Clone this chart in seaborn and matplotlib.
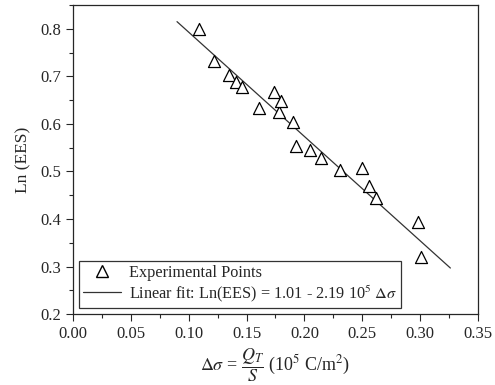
import numpy as np
import pandas as pd
import seaborn as sns
import matplotlib.pyplot as plt
from matplotlib.ticker import MultipleLocator
from matplotlib.lines import Line2D

# === Data ===
delta_sigma = [0.109, 0.122, 0.135, 0.141, 0.146, 0.161, 0.174, 0.178, 0.180,
               0.190, 0.193, 0.205, 0.214, 0.231, 0.250, 0.256, 0.262, 0.298, 0.301]
ln_ees = [0.800, 0.733, 0.702, 0.688, 0.678, 0.634, 0.667, 0.625, 0.648,
          0.604, 0.554, 0.545, 0.528, 0.503, 0.507, 0.469, 0.444, 0.394, 0.320]
fit_x = [0.090, 0.326]
fit_y = [0.815, 0.297]

points = pd.DataFrame({"x": delta_sigma, "y": ln_ees})
fit = pd.DataFrame({"x": fit_x, "y": fit_y})

# === Style ===
sns.set_style("ticks")
plt.rcParams["font.family"] = ["Liberation Serif", "DejaVu Serif"]
plt.rcParams["mathtext.fontset"] = "stix"

fig = plt.figure(figsize=(4.95, 3.85), dpi=100)
ax = fig.add_axes([0.147, 0.184, 0.819, 0.803])

sns.lineplot(data=fit, x="x", y="y", ax=ax, color="#333333", linewidth=0.9)
sns.scatterplot(data=points, x="x", y="y", ax=ax, marker="^", s=75,
                facecolor="white", edgecolor="black", linewidth=0.9, zorder=3)

ax.set_xlim(0.0, 0.35)
ax.set_ylim(0.2, 0.85)
ax.xaxis.set_major_locator(MultipleLocator(0.05))
ax.xaxis.set_minor_locator(MultipleLocator(0.025))
ax.yaxis.set_major_locator(MultipleLocator(0.1))
ax.yaxis.set_minor_locator(MultipleLocator(0.05))
ax.xaxis.set_major_formatter(plt.FormatStrFormatter("%.2f"))
ax.yaxis.set_major_formatter(plt.FormatStrFormatter("%.1f"))
ax.tick_params(which="major", direction="out", length=5, width=0.8, labelsize=12)
ax.tick_params(which="minor", direction="out", length=3, width=0.8)
for sp in ax.spines.values():
    sp.set_linewidth(0.9)

ax.set_ylabel("Ln (EES)", fontsize=12.5, labelpad=6)
ax.set_xlabel(r"$\Delta\sigma$ = $\dfrac{Q_T}{S}$ (10$^5$ C/m$^2$)", fontsize=13, labelpad=3)

handles = [
    Line2D([], [], marker="^", linestyle="none", markerfacecolor="white",
           markeredgecolor="black", markersize=8),
    Line2D([], [], color="#333333", linewidth=0.9),
]
labels = ["Experimental Points", r"Linear fit: Ln(EES) = 1.01 - 2.19 10$^5$ $\Delta\sigma$"]
leg = ax.legend(handles, labels, loc="lower left", fontsize=11.7, frameon=True,
                fancybox=False, edgecolor="black", borderaxespad=0.4,
                handlelength=2.3, borderpad=0.25, labelspacing=0.15,
                handletextpad=0.5)
leg.get_frame().set_linewidth(0.9)

fig.savefig("out.png", dpi=100)
